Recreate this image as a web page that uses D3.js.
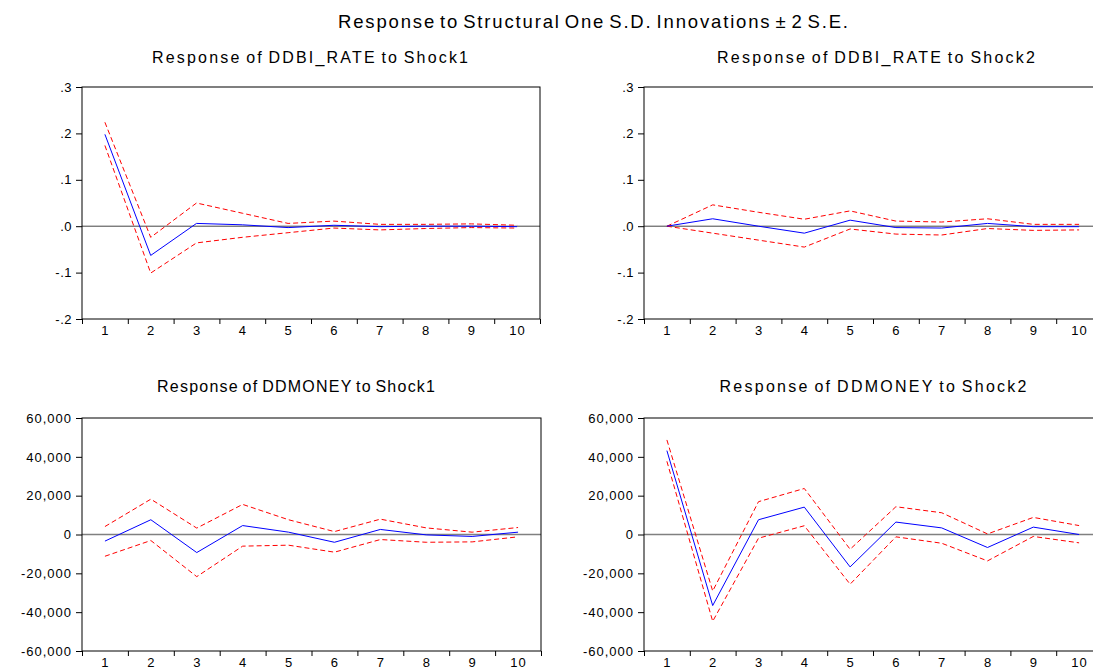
<!DOCTYPE html>
<html lang="en">
<head>
    <meta charset="UTF-8">
    <title>Impulse responses</title>
    <script src="https://cdn.jsdelivr.net/npm/d3@7/dist/d3.min.js"></script>
    <style>
        body { margin: 0; background: #fff; }
        svg { display: block; font-family: "Liberation Sans", Arial, sans-serif; }
    </style>
</head>
<body>
    <script>
        // periods after the shock
        var periods = [1, 2, 3, 4, 5, 6, 7, 8, 9, 10];

        // DDBI_RATE to Shock1
        var rateShock1 = [0.198, -0.063, 0.006, 0.003, -0.003, 0.002, -0.001, 0.000, 0.000, -0.001];
        var rateShock1Up = [0.224, -0.024, 0.050, 0.028, 0.006, 0.011, 0.004, 0.004, 0.005, 0.002];
        var rateShock1Lo = [0.174, -0.101, -0.036, -0.024, -0.014, -0.004, -0.008, -0.005, -0.003, -0.004];

        // DDBI_RATE to Shock2
        var rateShock2 = [0.000, 0.016, 0.000, -0.015, 0.013, -0.003, -0.004, 0.006, -0.001, -0.001];
        var rateShock2Up = [0.000, 0.046, 0.030, 0.015, 0.033, 0.011, 0.009, 0.016, 0.004, 0.004];
        var rateShock2Lo = [0.000, -0.015, -0.030, -0.045, -0.006, -0.017, -0.019, -0.005, -0.009, -0.008];

        // DDMONEY to Shock1
        var moneyShock1 = [-3400, 7600, -9300, 4600, 1200, -4000, 2600, -200, -1000, 1200];
        var moneyShock1Up = [4100, 18200, 3300, 15500, 7600, 1500, 7900, 3400, 1200, 3600];
        var moneyShock1Lo = [-11200, -3100, -21700, -6000, -5500, -9100, -2600, -4000, -3800, -1200];

        // DDMONEY to Shock2
        var moneyShock2 = [43200, -36600, 7600, 14100, -16700, 6400, 3400, -6700, 3800, 0];
        var moneyShock2Up = [48700, -29100, 16900, 23700, -7600, 14300, 11200, 300, 8800, 4600];
        var moneyShock2Lo = [37700, -44700, -1900, 4500, -25600, -1200, -4500, -13600, -1000, -4300];

        var rateTicks = [-0.2, -0.1, 0, 0.1, 0.2, 0.3];
        var moneyTicks = [-60000, -40000, -20000, 0, 20000, 40000, 60000];

        var width = 1093, height = 672;

        var svg = d3.select("body").append("svg")
            .attr("width", width)
            .attr("height", height);

        svg.append("text")
            .attr("x", 593)
            .attr("y", 28)
            .attr("text-anchor", "middle")
            .attr("font-size", 18.5)
            .attr("word-spacing", -3)
            .attr("textLength", 510)
            .attr("lengthAdjust", "spacing")
            .text("Response to Structural One S.D. Innovations \u00b1 2 S.E.");

        // eviews style labels: ".3", "-.2", "-20,000" with a plain hyphen
        var rateFmt = function (v) {
            return d3.format(".1f")(v).replace("0.", ".").replace("\u2212", "-");
        };
        var moneyFmt = function (v) {
            return d3.format(",")(v).replace("\u2212", "-");
        };

        function panel(opt) {
            var g = svg.append("g")
                .attr("transform", "translate(" + opt.left + "," + opt.top + ")");
            var w = opt.w, h = opt.h;

            var x = d3.scaleLinear().domain([0.5, 10.5]).range([0, w]);
            var y = d3.scaleLinear().domain(opt.domain).range([h, 0]);

            // title
            svg.append("text")
                .attr("x", opt.titleX)
                .attr("y", opt.titleY)
                .attr("text-anchor", "middle")
                .attr("font-size", 16)
                .attr("word-spacing", -2)
                .attr("textLength", opt.titleLen)
                .attr("lengthAdjust", "spacing")
                .text(opt.title);

            // zero line
            g.append("line")
                .attr("x1", 0).attr("x2", w)
                .attr("y1", y(0)).attr("y2", y(0))
                .attr("stroke", opt.zeroColor)
                .attr("stroke-width", opt.zeroWidth);

            var line = d3.line()
                .x(function (d, i) { return x(periods[i]); })
                .y(function (d) { return y(d); });

            g.append("path").datum(opt.up)
                .attr("d", line).attr("fill", "none")
                .attr("stroke", "#ff0000").attr("stroke-width", 1)
                .attr("stroke-dasharray", "5,3");
            g.append("path").datum(opt.lo)
                .attr("d", line).attr("fill", "none")
                .attr("stroke", "#ff0000").attr("stroke-width", 1)
                .attr("stroke-dasharray", "5,3");
            g.append("path").datum(opt.mid)
                .attr("d", line).attr("fill", "none")
                .attr("stroke", "#0000ff").attr("stroke-width", 1);

            // frame
            g.append("rect")
                .attr("x", 0).attr("y", 0)
                .attr("width", w).attr("height", h)
                .attr("fill", "none")
                .attr("stroke", "#000").attr("stroke-width", 1);

            // y axis
            var ya = g.append("g")
                .call(d3.axisLeft(y).tickValues(opt.ticks).tickFormat(opt.fmt)
                    .tickSize(6).tickPadding(4));
            ya.select(".domain").remove();
            ya.selectAll("text")
                .attr("font-size", 13)
                .attr("letter-spacing", opt.ls)
                .attr("font-family", null)
                .attr("fill", "#000");

            // x axis: tick marks between periods, labels centred
            var xt = g.append("g").attr("transform", "translate(0," + h + ")")
                .call(d3.axisBottom(x).tickValues(d3.range(0.5, 11, 1)).tickFormat("").tickSize(5));
            xt.select(".domain").remove();

            var xl = g.append("g").attr("transform", "translate(0," + h + ")")
                .call(d3.axisBottom(x).tickValues(periods).tickSize(0).tickPadding(7));
            xl.select(".domain").remove();
            xl.selectAll("text")
                .attr("font-size", 13)
                .attr("letter-spacing", 1)
                .attr("font-family", null)
                .attr("fill", "#000");
        }

        panel({
            left: 82, top: 87, w: 458, h: 232,
            domain: [-0.2, 0.3], ticks: rateTicks, fmt: rateFmt, ls: 0.5,
            mid: rateShock1, up: rateShock1Up, lo: rateShock1Lo,
            zeroColor: "#444", zeroWidth: 1,
            title: "Response of DDBI_RATE to Shock1", titleX: 310, titleY: 63, titleLen: 316
        });
        panel({
            left: 644, top: 87, w: 458, h: 232,
            domain: [-0.2, 0.3], ticks: rateTicks, fmt: rateFmt, ls: 0.5,
            mid: rateShock2, up: rateShock2Up, lo: rateShock2Lo,
            zeroColor: "#444", zeroWidth: 1,
            title: "Response of DDBI_RATE to Shock2", titleX: 876, titleY: 63, titleLen: 318
        });
        panel({
            left: 82, top: 418, w: 459, h: 233,
            domain: [-60000, 60000], ticks: moneyTicks, fmt: moneyFmt, ls: 1,
            mid: moneyShock1, up: moneyShock1Up, lo: moneyShock1Lo,
            zeroColor: "#808080", zeroWidth: 1.6,
            title: "Response of DDMONEY to Shock1", titleX: 296, titleY: 392, titleLen: 278
        });
        panel({
            left: 644, top: 418, w: 458, h: 233,
            domain: [-60000, 60000], ticks: moneyTicks, fmt: moneyFmt, ls: 1,
            mid: moneyShock2, up: moneyShock2Up, lo: moneyShock2Lo,
            zeroColor: "#808080", zeroWidth: 1.6,
            title: "Response of DDMONEY to Shock2", titleX: 873, titleY: 392, titleLen: 307
        });
    </script>
</body>
</html>
